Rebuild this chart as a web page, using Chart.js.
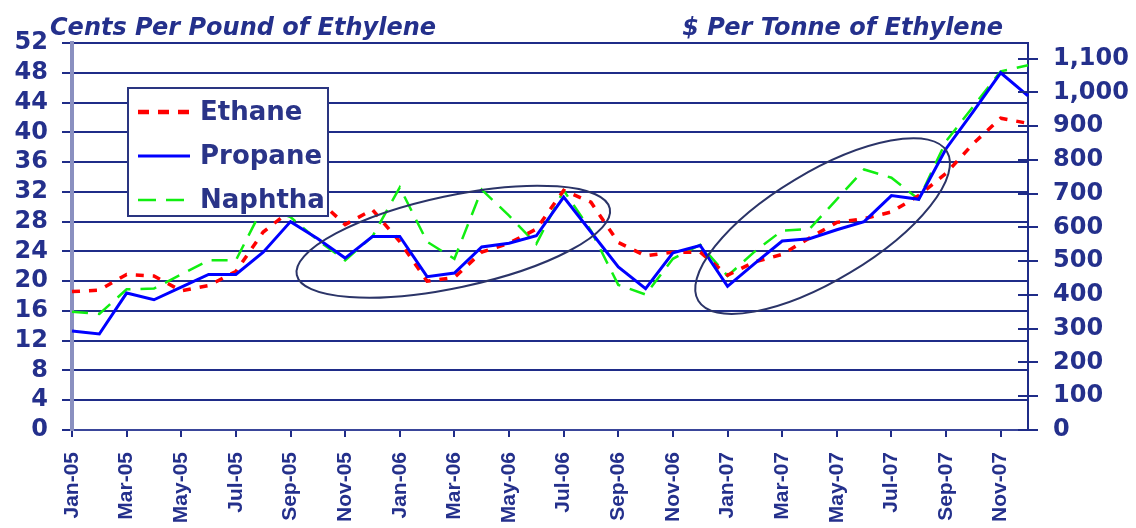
<!DOCTYPE html>
<html>
<head>
<meta charset="utf-8">
<title>Ethylene feedstock costs</title>
<script src="https://cdn.jsdelivr.net/npm/chart.js@4.4.1/dist/chart.umd.min.js"></script>
<style>
  html, body { margin: 0; padding: 0; background: #ffffff; }
  #wrap { width: 1136px; height: 528px; position: relative; }
</style>
</head>
<body>
<div id="wrap"><canvas id="chart" width="1136" height="528"></canvas></div>
<script>
// Monthly cash cost of ethylene by feedstock, Jan-05 .. Dec-07 (cents per pound)
const months = [
  'Jan-05','Feb-05','Mar-05','Apr-05','May-05','Jun-05','Jul-05','Aug-05','Sep-05','Oct-05','Nov-05','Dec-05',
  'Jan-06','Feb-06','Mar-06','Apr-06','May-06','Jun-06','Jul-06','Aug-06','Sep-06','Oct-06','Nov-06','Dec-06',
  'Jan-07','Feb-07','Mar-07','Apr-07','May-07','Jun-07','Jul-07','Aug-07','Sep-07','Oct-07','Nov-07','Dec-07'
];
const ethane = [
  18.6, 18.8, 20.9, 20.7, 18.7, 19.4, 21.3, 26.6, 29.5, 31.0, 27.6, 29.6,
  25.3, 20.0, 20.5, 23.9, 25.1, 27.0, 32.2, 30.6, 25.2, 23.4, 23.9, 23.9,
  20.8, 22.6, 23.6, 25.8, 27.9, 28.4, 29.3, 31.5, 34.5, 38.5, 41.9, 41.2
];
const propane = [
  13.3, 12.9, 18.4, 17.5, 19.2, 20.9, 20.9, 23.9, 28.0, 25.7, 23.1, 26.0,
  26.0, 20.6, 21.1, 24.6, 25.1, 26.1, 31.3, 26.6, 21.9, 19.0, 23.8, 24.8,
  19.3, 22.4, 25.4, 25.7, 26.9, 28.0, 31.5, 31.0, 37.8, 42.8, 48.0, 44.9
];
const naphtha = [
  15.9, 15.6, 18.9, 19.0, 20.9, 22.8, 22.8, 30.0, 28.6, 25.5, 22.8, 26.0,
  32.6, 25.3, 23.0, 32.3, 28.8, 25.0, 32.2, 26.8, 19.5, 18.2, 23.0, 24.9,
  20.7, 24.0, 26.8, 27.0, 31.0, 35.0, 33.9, 31.0, 38.8, 43.5, 48.2, 49.0
];
const seriesNames = ['Ethane', 'Propane', 'Naphtha'];

// Axis ranges: left in cents/lb, right in $/tonne (1 c/lb = 22.0462 $/t)
const CENTS_MIN = 0, CENTS_MAX = 52, CENTS_STEP = 4;
const TONNE_STEP = 100;
const CENTS_TO_TONNE = 22.0462;

const leftTitle = 'Cents Per Pound of Ethylene';
const rightTitle = '$ Per Tonne of Ethylene';

const NAVY = '#24308c';
const GRID = '#1f2c88';
const FONT = '"DejaVu Sans", "Liberation Sans", Arial, sans-serif';
const NARROW = '"Liberation Sans", Arial, sans-serif';

// Axis captions above the plot
const axisTitles = {
  id: 'axisTitles',
  afterDraw(chart) {
    const { ctx, chartArea } = chart;
    ctx.save();
    ctx.fillStyle = NAVY;
    ctx.font = 'italic bold 24px ' + FONT;
    ctx.textBaseline = 'alphabetic';
    ctx.textAlign = 'left';
    ctx.fillText(leftTitle, chartArea.left - 22, 35);
    ctx.textAlign = 'right';
    ctx.fillText(rightTitle, chartArea.right - 25, 35);
    ctx.restore();
  }
};

// Right axis tick marks cross the axis line
const innerTicks = {
  id: 'innerTicks',
  afterDraw(chart) {
    const s = chart.scales.y2;
    const { ctx, chartArea } = chart;
    ctx.save();
    ctx.strokeStyle = GRID;
    ctx.lineWidth = 2;
    s.ticks.forEach(t => {
      const y = Math.round(s.getPixelForValue(t.value));
      ctx.beginPath();
      ctx.moveTo(chartArea.right - 10, y);
      ctx.lineTo(chartArea.right, y);
      ctx.stroke();
    });
    ctx.restore();
  }
};

// Highlight rings around the two periods of interest (centre in month index / cents)
const rings = {
  id: 'rings',
  afterDatasetsDraw(chart, args, opts) {
    const { ctx } = chart;
    const xs = chart.scales.x, ys = chart.scales.y;
    ctx.save();
    ctx.strokeStyle = opts.color;
    ctx.lineWidth = opts.width;
    opts.items.forEach(r => {
      const cx = xs.getPixelForValue(r.month);
      const cy = ys.getPixelForValue(r.cents);
      ctx.beginPath();
      ctx.ellipse(cx, cy, r.rx, r.ry, -r.tilt * Math.PI / 180, 0, Math.PI * 2);
      ctx.stroke();
    });
    ctx.restore();
  }
};

// Boxed legend inside the plot area
const boxLegend = {
  id: 'boxLegend',
  afterDatasetsDraw(chart, args, opts) {
    const { ctx, chartArea } = chart;
    const x = chartArea.left + opts.dx, y = chartArea.top + opts.dy;
    ctx.save();
    ctx.fillStyle = '#ffffff';
    ctx.fillRect(x, y, opts.w, opts.h);
    ctx.strokeStyle = '#2a3580';
    ctx.lineWidth = 2;
    ctx.strokeRect(x, y, opts.w, opts.h);
    ctx.font = 'bold 26px ' + FONT;
    ctx.textBaseline = 'middle';
    ctx.textAlign = 'left';
    chart.data.datasets.forEach((ds, i) => {
      const ry = y + opts.firstRow + i * opts.rowGap;
      ctx.strokeStyle = ds.borderColor;
      ctx.lineWidth = ds.legendWidth || ds.borderWidth;
      ctx.setLineDash(ds.legendDash || ds.borderDash || []);
      ctx.beginPath();
      ctx.moveTo(x + 10, ry);
      ctx.lineTo(x + 62, ry);
      ctx.stroke();
      ctx.setLineDash([]);
      ctx.fillStyle = '#2a3488';
      ctx.fillText(ds.label, x + 72, ry + 1);
    });
    ctx.restore();
  }
};

const tickFont = { family: FONT, size: 24, weight: 'bold' };

new Chart(document.getElementById('chart'), {
  type: 'line',
  data: {
    labels: months,
    datasets: [
      {
        label: seriesNames[0], data: ethane,
        borderColor: '#ff0000', borderWidth: 3.5, borderDash: [8, 9],
        legendDash: [11, 9], legendWidth: 4.5, order: 1
      },
      {
        label: seriesNames[1], data: propane,
        borderColor: '#0000ff', borderWidth: 3, order: 0
      },
      {
        label: seriesNames[2], data: naphtha,
        borderColor: '#11ee11', borderWidth: 2.5, borderDash: [16, 10],
        legendDash: [18, 10], order: 2
      }
    ]
  },
  options: {
    responsive: false,
    animation: false,
    devicePixelRatio: 1,
    layout: { padding: { top: 43, left: 0, right: 0, bottom: 0 } },
    elements: { point: { radius: 0 }, line: { tension: 0, borderCapStyle: 'butt' } },
    plugins: {
      legend: { display: false },
      tooltip: { enabled: false },
      rings: {
        color: '#2b3468', width: 2,
        items: [
          { month: 13.96, cents: 25.3, rx: 160, ry: 46, tilt: 12 },
          { month: 27.48, cents: 27.4, rx: 145, ry: 54, tilt: 31 }
        ]
      },
      boxLegend: { dx: 56, dy: 45, w: 200, h: 128, firstRow: 24, rowGap: 44 }
    },
    scales: {
      x: {
        type: 'category',
        offset: false,
        grid: {
          display: true, drawOnChartArea: false, drawTicks: true, tickLength: 7, lineWidth: 2,
          color: ctx => (ctx.index % 2 === 0 ? GRID : 'rgba(0,0,0,0)')
        },
        border: { display: true, color: '#3a469a', width: 2 },
        ticks: {
          autoSkip: false, minRotation: 90, maxRotation: 90, padding: 15,
          color: NAVY, font: { family: NARROW, size: 21, weight: 'bold' },
          callback: (v, i) => (i % 2 === 0 ? months[i] : '')
        },
        afterFit: s => { s.height = 98; }
      },
      y: {
        position: 'left',
        min: CENTS_MIN, max: CENTS_MAX,
        ticks: { autoSkip: false, stepSize: CENTS_STEP, color: NAVY, font: tickFont, padding: 14 },
        grid: { color: GRID, lineWidth: 2, drawTicks: true, tickLength: 10 },
        border: { display: true, color: '#8a90c0', width: 4 },
        afterFit: s => { s.width = 72; }
      },
      y2: {
        display: true,
        position: 'right',
        min: CENTS_MIN * CENTS_TO_TONNE, max: CENTS_MAX * CENTS_TO_TONNE,
        ticks: { autoSkip: false, stepSize: TONNE_STEP, includeBounds: false, color: NAVY, font: tickFont, padding: 15 },
        grid: { drawOnChartArea: false, color: GRID, lineWidth: 2, drawTicks: true, tickLength: 10 },
        border: { display: true, color: GRID, width: 2 },
        afterFit: s => { s.width = 108; }
      }
    }
  },
  plugins: [rings, boxLegend, innerTicks, axisTitles]
});
</script>
</body>
</html>
